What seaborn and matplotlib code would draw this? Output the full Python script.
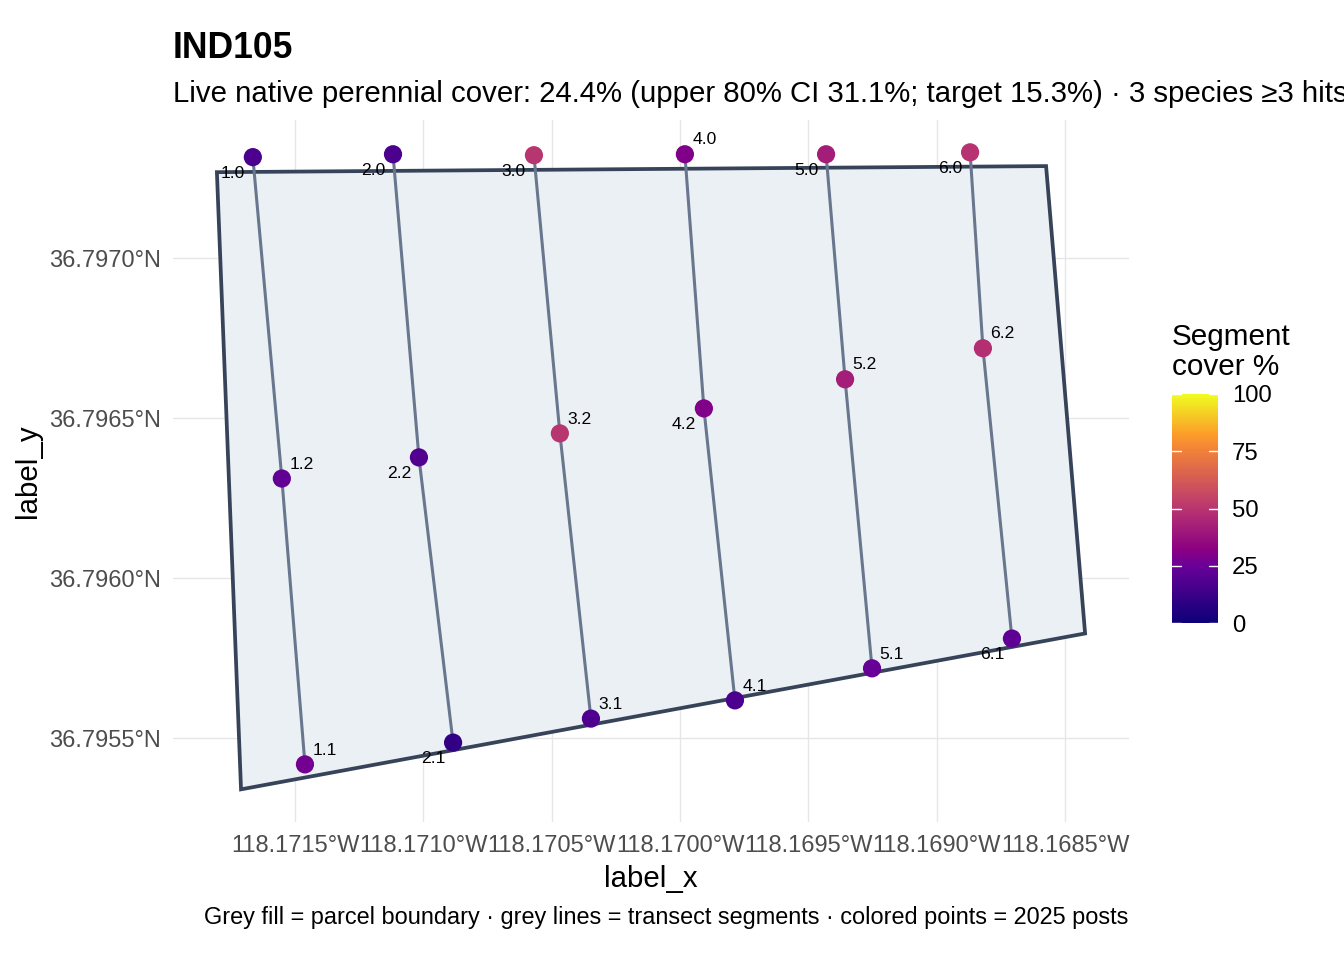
import numpy as np
import pandas as pd
import matplotlib
matplotlib.use("Agg")
import matplotlib.pyplot as plt
from matplotlib.colors import LinearSegmentedColormap, Normalize
from matplotlib.cm import ScalarMappable
import seaborn as sns

labels = ["1.0", "1.2", "1.1", "2.0", "2.2", "2.1", "3.0", "3.2", "3.1",
          "4.0", "4.2", "4.1", "5.0", "5.2", "5.1", "6.0", "6.2", "6.1"]
transects = [1, 1, 1, 2, 2, 2, 3, 3, 3, 4, 4, 4, 5, 5, 5, 6, 6, 6]
lons = [-118.171664, -118.171551, -118.171461, -118.171118, -118.171017, -118.170884,
        -118.170569, -118.170468, -118.170347, -118.169981, -118.169907, -118.169786,
        -118.169431, -118.169357, -118.169252, -118.168870, -118.168820, -118.168707]
lats = [36.797316, 36.796312, 36.795419, 36.797325, 36.796378, 36.795487,
        36.797322, 36.796453, 36.795562, 36.797325, 36.796531, 36.795619,
        36.797325, 36.796622, 36.795719, 36.797331, 36.796719, 36.795812]
cover = [17, 23, 27, 17, 19, 10, 50, 50, 18, 30, 30, 17, 42, 42, 24, 49, 48, 22]
parcel_lon = [-118.171804, -118.168574, -118.168422, -118.171710]
parcel_lat = [36.797269, 36.797288, 36.795828, 36.795341]
x_ticks = [-118.1715, -118.1710, -118.1705, -118.1700, -118.1695, -118.1690, -118.1685]
y_ticks = [36.7955, 36.7960, 36.7965, 36.7970]
legend_ticks = [0, 25, 50, 75, 100]
title = "IND105"
subtitle = ("Live native perennial cover: 24.4% (upper 80% CI 31.1%; target 15.3%) "
            "\u00b7 3 species \u22653 hits")
caption = "Grey fill = parcel boundary \u00b7 grey lines = transect segments \u00b7 colored points = 2025 posts"

sns.set_theme(style="whitegrid")
plt.rcParams["font.family"] = ["Liberation Sans", "DejaVu Sans"]

df = pd.DataFrame({"label": labels, "transect": transects, "lon": lons, "lat": lats, "cover": cover})
cmap = LinearSegmentedColormap.from_list(
    "cover", [(0, "#0d0078"), (0.25, "#6a0098"), (0.32, "#8b0082"), (0.5, "#b83570"),
              (0.75, "#f0803a"), (0.82, "#fc9a2a"), (1, "#f0fc20")])
norm = Normalize(0, 100)

W, H = 1344, 960
fig = plt.figure(figsize=(W / 100, H / 100), dpi=100)
ax = fig.add_axes([173 / W, 1 - 822 / H, 956 / W, 702 / H])
ax.set_xlim(-118.171975, -118.168251)
ax.set_ylim(36.795239, 36.797432)

ax.fill(parcel_lon, parcel_lat, facecolor="#ebf0f5", edgecolor="#374359", linewidth=2.7, zorder=2, joinstyle="miter")
sns.lineplot(data=df, x="lon", y="lat", units="transect", estimator=None, sort=False,
             color="#68778e", linewidth=2.2, ax=ax, zorder=3)
sns.scatterplot(data=df, x="lon", y="lat", hue="cover", palette=cmap, hue_norm=norm,
                s=172, linewidth=0, legend=False, ax=ax, zorder=4)

left_low = {"1.0", "2.0", "2.2", "2.1", "3.0", "4.2", "5.0", "6.0", "6.1"}
for row in df.itertuples():
    off = (-14.4, -11.6) if row.label in left_low else (14.3, 10.3)
    ax.annotate(row.label, (row.lon, row.lat), xytext=off, textcoords="offset points",
                ha="center", va="center", fontsize=12.6, color="black", zorder=5)

ax.set_xticks(x_ticks)
ax.set_xticklabels([f"{abs(v):.4f}\u00b0W" for v in x_ticks], fontsize=17, color="#4d4d4d")
ax.set_yticks(y_ticks)
ax.set_yticklabels([f"{v:.4f}\u00b0N" for v in y_ticks], fontsize=17, color="#4d4d4d")
ax.tick_params(length=0, pad=9)
ax.grid(True, color="#e6e6e6", linewidth=1.0)
ax.set_axisbelow(True)
for s in ax.spines.values():
    s.set_visible(False)
ax.set_xlabel("label_x", fontsize=21.2, color="black", labelpad=6)
ax.set_ylabel("label_y", fontsize=21.2, color="black", labelpad=5)

fig.text(173 / W, 1 - 49 / H, title, fontsize=25.6, fontweight="bold", va="center", ha="left", color="black")
fig.text(173 / W, 1 - 94.5 / H, subtitle, fontsize=21.15, va="center", ha="left", color="black")
fig.text(1128 / W, 1 - 917.5 / H, caption, fontsize=16.9, va="center", ha="right", color="black")

cax = fig.add_axes([1172 / W, 1 - 623 / H, 46 / W, 229 / H])
cb = fig.colorbar(ScalarMappable(norm=norm, cmap=cmap), cax=cax)
cb.outline.set_visible(False)
cb.set_ticks(legend_ticks)
cb.ax.tick_params(length=0, labelsize=17.2, pad=10, labelcolor="black")
cb.ax.grid(False)
for t in legend_ticks:
    cax.plot([0, 0.2], [t, t], color="white", lw=1.0, transform=cax.get_yaxis_transform(), clip_on=False)
    cax.plot([0.8, 1], [t, t], color="white", lw=1.0, transform=cax.get_yaxis_transform(), clip_on=False)
fig.text(1172 / W, 1 - 352 / H, "Segment\ncover %", fontsize=21.4, va="center", ha="left",
         linespacing=1.13, color="black")

fig.savefig("out.png", dpi=100)
